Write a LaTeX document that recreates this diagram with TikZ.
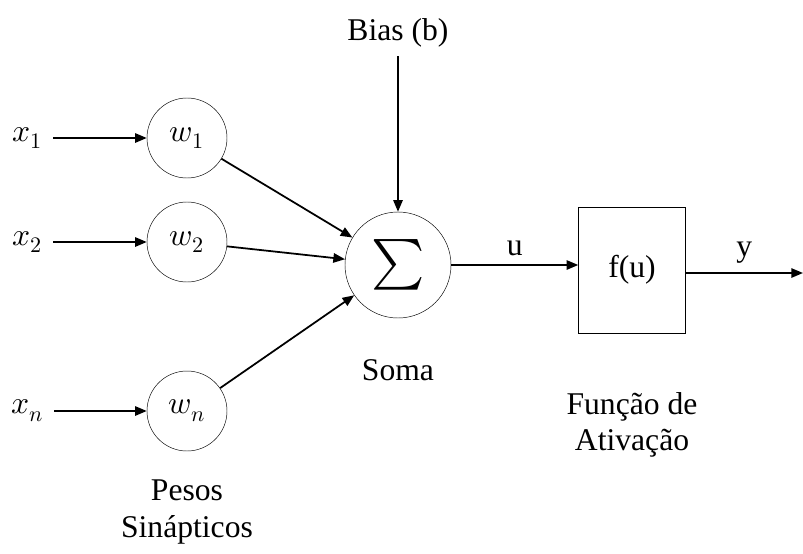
\documentclass[tikz,border=0pt]{standalone}
\usepackage{fontspec}
\usepackage{unicode-math}
\setmainfont{Liberation Serif}
\setmathfont{Latin Modern Math}
\usepackage{tikz}
\usetikzlibrary{positioning,arrows.meta,calc}
\definecolor{cLine}{HTML}{000000}

\begin{document}
\begin{tikzpicture}[x=0.03cm,y=-0.03cm,font=\fontsize{27}{31}\selectfont,
    weight/.style={draw,circle,minimum size=2.4cm,inner sep=0pt},
    summer/.style={draw,circle,minimum size=3.18cm,inner sep=0pt},
    actbox/.style={draw,minimum width=3.21cm,minimum height=3.78cm},
    conn/.style={cLine,line width=1.5pt,-{Triangle[length=10pt,width=8pt]}}]
  \useasboundingbox (0,0) rectangle (803,553);
  % inputs and synaptic weights
  \foreach \n/\y in {1/138,2/242,n/411}
    {\node (x\n) at (27,\y) {$x_\n$};
     \node[weight] (w\n) at (187,\y) {$w_\n$};
     \draw[conn] (x\n.east)++(7,0) -- (w\n);}
  \node[align=center] (pesos) at (187,512) {Pesos\\Sinápticos};
  % sum
  \node[summer] (soma) at (398,265) {\scalebox{1.6}{$\sum$}};
  \node (somalbl) at (398,370) {Soma};
  \node (bias) at (398,33) {Bias (b)};
  \draw[conn] (bias.south)++(0,5) -- (soma);
  \foreach \n in {1,2,n}
    {\draw[conn] (w\n) -- (soma);}
  % activation
  \node[actbox] (fu) at (632,270) {f(u)};
  \node[align=center] (ativ) at (632,425) {Função de\\Ativação};
  \draw[conn] (soma.east) -- node[above=4pt] {u} (soma.east -| fu.west);
  \coordinate (saida) at (803,273);
  \draw[conn] (fu.east |- saida) -- node[above=4pt] {y} (saida);
\end{tikzpicture}
\end{document}
